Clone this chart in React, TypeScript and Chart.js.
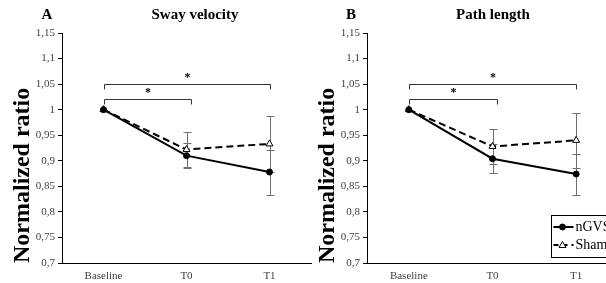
import React, { useEffect, useRef } from 'react';
import { Chart, registerables } from 'chart.js';
Chart.register(...registerables);

const categories = ['Baseline', 'T0', 'T1'];
const yTickValues = [0.7, 0.75, 0.8, 0.85, 0.9, 0.95, 1, 1.05, 1.1, 1.15];
const yTickLabels = ['0,7', '0,75', '0,8', '0,85', '0,9', '0,95', '1', '1,05', '1,1', '1,15'];
const seriesNames = ['nGVS', 'Sham'];

// Panel A – Sway velocity
const swayNgvs = [1.0, 0.910, 0.878];
const swayNgvsErr = [0, 0.025, 0.044];
const swaySham = [1.0, 0.922, 0.933];
const swayShamErr = [0, 0.034, 0.054];

// Panel B – Path length
const pathNgvs = [1.0, 0.904, 0.874];
const pathNgvsErr = [0, 0.028, 0.040];
const pathSham = [1.0, 0.928, 0.940];
const pathShamErr = [0, 0.035, 0.054];

// Significance brackets: from category, to category, level, label
const bracketFrom = [0, 0];
const bracketTo = [2, 1];
const bracketLevel = [1.05, 1.021];
const bracketText = ['*', '*'];

const SERIF = "'Liberation Serif', 'Times New Roman', serif";

type PanelCfg = {
  letter: string;
  title: string;
  ngvs: number[];
  ngvsErr: number[];
  sham: number[];
  shamErr: number[];
  letterX: number;
  titleX: number;
  legend: boolean;
  width: number;
  padRight: number;
};

function makeOverlay(cfg: PanelCfg) {
  const errs = [cfg.ngvsErr, cfg.shamErr];
  return {
    id: 'overlay',
    beforeDatasetsDraw(chart: any) {
      const ctx = chart.ctx;
      const xs = chart.scales.x;
      const ys = chart.scales.y;
      ctx.save();
      ctx.strokeStyle = '#6e6e6e';
      ctx.lineWidth = 1;
      errs.forEach((arr, di) => {
        const vals = chart.data.datasets[di].data as number[];
        arr.forEach((e, i) => {
          if (!e) return;
          const px = Math.round(xs.getPixelForValue(i)) + 0.5;
          const t = Math.round(ys.getPixelForValue(vals[i] + e)) + 0.5;
          const b = Math.round(ys.getPixelForValue(vals[i] - e)) + 0.5;
          ctx.beginPath();
          ctx.moveTo(px, t);
          ctx.lineTo(px, b);
          ctx.moveTo(px - 4, t);
          ctx.lineTo(px + 4, t);
          ctx.moveTo(px - 4, b);
          ctx.lineTo(px + 4, b);
          ctx.stroke();
        });
      });
      ctx.restore();
    },
    afterDraw(chart: any) {
      const ctx = chart.ctx;
      const xs = chart.scales.x;
      const ys = chart.scales.y;
      ctx.save();
      // brackets
      ctx.strokeStyle = '#333';
      ctx.lineWidth = 1;
      ctx.fillStyle = '#000';
      ctx.font = `bold 12px ${SERIF}`;
      ctx.textAlign = 'center';
      ctx.textBaseline = 'middle';
      bracketFrom.forEach((f, k) => {
        const x1 = Math.round(xs.getPixelForValue(f)) + 0.5;
        const x2 = Math.round(xs.getPixelForValue(bracketTo[k])) + 0.5 + (bracketTo[k] === 1 ? 4 : 0);
        const yl = Math.round(ys.getPixelForValue(bracketLevel[k])) + 0.5;
        const yd = yl + 5;
        ctx.beginPath();
        ctx.moveTo(x1, yd);
        ctx.lineTo(x1, yl);
        ctx.lineTo(x2, yl);
        ctx.lineTo(x2, yd);
        ctx.stroke();
        ctx.fillText(bracketText[k], (x1 + x2) / 2, yl - 7);
      });
      // titles
      ctx.font = `bold 15px ${SERIF}`;
      ctx.fillStyle = '#000';
      ctx.fillText(cfg.letter, cfg.letterX, 15);
      ctx.fillText(cfg.title, cfg.titleX, 15);
      // legend
      if (cfg.legend) {
        const ds = chart.data.datasets;
        const bx = chart.chartArea.left + 184 + 0.5;
        const by = 215.5;
        ctx.fillStyle = '#fff';
        ctx.fillRect(bx, by, 90, 42);
        ctx.strokeStyle = '#000';
        ctx.lineWidth = 1;
        ctx.strokeRect(bx, by, 90, 42);
        const rows = [227, 245];
        ds.forEach((d: any, i: number) => {
          const ry = rows[i];
          ctx.save();
          ctx.strokeStyle = '#000';
          ctx.lineWidth = 2;
          ctx.setLineDash(d.borderDash ? [5, 4] : []);
          ctx.beginPath();
          ctx.moveTo(bx + 2, ry);
          ctx.lineTo(bx + 22, ry);
          ctx.stroke();
          ctx.restore();
          const mx = bx + 11;
          ctx.save();
          ctx.lineWidth = 1;
          ctx.strokeStyle = '#000';
          ctx.fillStyle = d.pointBackgroundColor;
          ctx.beginPath();
          if (d.pointStyle === 'triangle') {
            ctx.moveTo(mx, ry - 3.5);
            ctx.lineTo(mx + 3.5, ry + 2.5);
            ctx.lineTo(mx - 3.5, ry + 2.5);
            ctx.closePath();
          } else {
            ctx.arc(mx, ry, 3, 0, Math.PI * 2);
          }
          ctx.fill();
          ctx.stroke();
          ctx.restore();
          ctx.fillStyle = '#000';
          ctx.font = `14px ${SERIF}`;
          ctx.textAlign = 'left';
          ctx.fillText(d.label, bx + 24, ry + 0.5);
        });
      }
      ctx.restore();
    },
  };
}

function Panel({ cfg, left }: { cfg: PanelCfg; left: number }) {
  const ref = useRef<HTMLCanvasElement>(null);
  useEffect(() => {
    if (!ref.current) return;
    const chart = new Chart(ref.current, {
      type: 'line',
      data: {
        labels: categories,
        datasets: [
          {
            label: seriesNames[0],
            data: cfg.ngvs,
            borderColor: '#000',
            borderWidth: 2,
            pointStyle: 'circle',
            pointRadius: 3,
            pointBackgroundColor: '#000',
            pointBorderColor: '#000',
            pointBorderWidth: 1,
            tension: 0,
            fill: false,
          },
          {
            label: seriesNames[1],
            data: cfg.sham,
            borderColor: '#000',
            borderWidth: 2,
            borderDash: [7, 4],
            pointStyle: 'triangle',
            pointRadius: 4,
            pointBackgroundColor: '#fff',
            pointBorderColor: '#000',
            pointBorderWidth: 1,
            tension: 0,
            fill: false,
          },
        ],
      },
      options: {
        animation: false,
        responsive: false,
        layout: { padding: { top: 33, right: cfg.padRight, bottom: 0, left: 0 } },
        plugins: { legend: { display: false }, title: { display: false }, tooltip: { enabled: false } },
        scales: {
          x: {
            offset: true,
            afterFit: (s: any) => {
              s.height = 20;
            },
            grid: { display: false, drawTicks: false },
            border: { display: true, color: '#000', width: 1 },
            ticks: { color: '#404040', font: { family: SERIF, size: 11 }, padding: 7, maxRotation: 0, autoSkip: false },
          },
          y: {
            min: 0.7,
            max: 1.15,
            afterFit: (s: any) => {
              s.width = 62;
            },
            grid: { display: true, drawOnChartArea: false, drawTicks: true, tickLength: 4, color: '#000' },
            border: { display: true, color: '#000', width: 1 },
            ticks: {
              stepSize: 0.05,
              color: '#404040',
              font: { family: SERIF, size: 11 },
              padding: 3,
              callback: (v: any) => {
                const i = yTickValues.findIndex((t) => Math.abs(t - Number(v)) < 1e-6);
                return i >= 0 ? yTickLabels[i] : '';
              },
            },
            title: {
              display: true,
              text: 'Normalized ratio',
              align: 'start',
              color: '#000',
              font: { family: SERIF, size: 24, weight: 'bold' },
              padding: { top: 8, bottom: 0 },
            },
          },
        },
      },
      plugins: [makeOverlay(cfg)],
    } as any);
    return () => chart.destroy();
  }, [cfg]);
  return (
    <canvas
      ref={ref}
      width={cfg.width}
      height={283}
      style={{ position: 'absolute', left, top: 0, width: cfg.width, height: 283 }}
    />
  );
}

const cfgA: PanelCfg = {
  letter: 'A',
  title: 'Sway velocity',
  ngvs: swayNgvs,
  ngvsErr: swayNgvsErr,
  sham: swaySham,
  shamErr: swayShamErr,
  letterX: 47,
  titleX: 195,
  legend: false,
  width: 316,
  padRight: 3,
};

const cfgB: PanelCfg = {
  letter: 'B',
  title: 'Path length',
  ngvs: pathNgvs,
  ngvsErr: pathNgvsErr,
  sham: pathSham,
  shamErr: pathShamErr,
  letterX: 46,
  titleX: 188,
  legend: true,
  width: 318,
  padRight: 4,
};

export default function App() {
  return (
    <div
      style={{
        position: 'fixed',
        left: 0,
        top: 0,
        width: 606,
        height: 283,
        overflow: 'hidden',
        background: '#fff',
      }}
    >
      <Panel cfg={cfgA} left={0} />
      <Panel cfg={cfgB} left={305} />
    </div>
  );
}
